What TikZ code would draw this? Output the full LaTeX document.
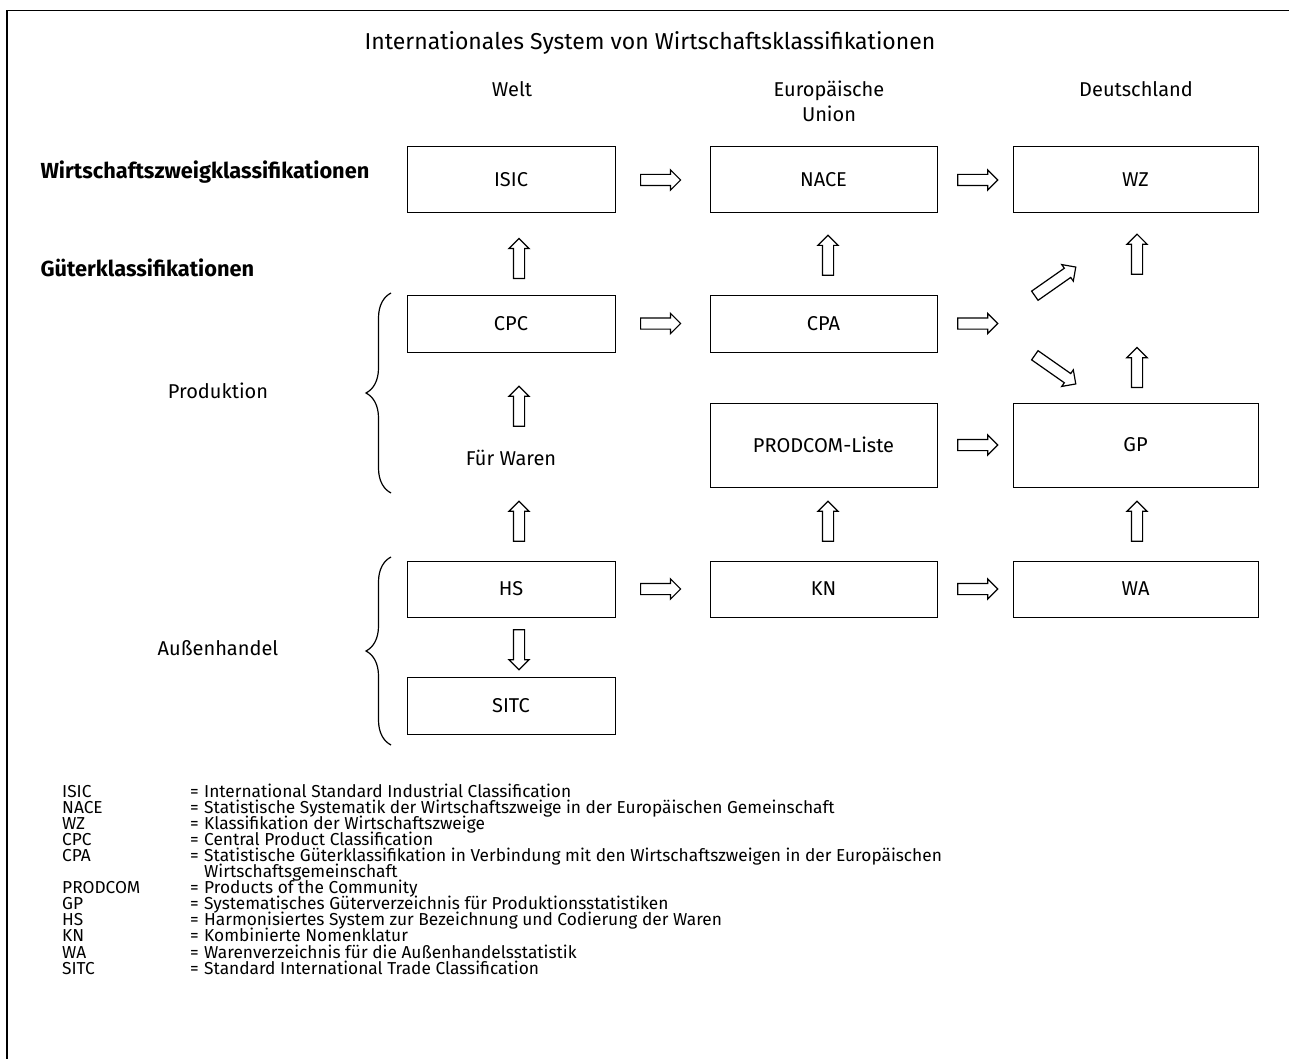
\documentclass[tikz,border=0pt]{standalone}
\usepackage{fontspec}
\setmainfont{Fira Sans}
\usetikzlibrary{shapes.arrows,decorations.pathreplacing}

\tikzset{
  box/.style={draw, line width=1pt, inner sep=0pt, font=\fontsize{20}{24}\selectfont},
  lbl/.style={font=\fontsize{20}{25}\selectfont},
  head/.style={font=\fontsize{21.8}{25}\selectfont\bfseries, anchor=west},
  legtxt/.style={anchor=base west, inner sep=0pt, font=\fontsize{17.3}{16}\selectfont},
  blk/.style={single arrow, draw, line width=1.2pt, fill=white, inner sep=0pt,
    text height=10pt, text depth=0pt, minimum height=40pt, single arrow head extend=4.5pt,
    single arrow tip angle=90, sloped, allow upside down},
  brc/.style={decorate, decoration={brace, amplitude=25pt}, line width=1.2pt}
}

\begin{document}
\begin{tikzpicture}[x=1pt, y=-1pt]
  \useasboundingbox (0,0) rectangle (1289,1059);
  % frame
  \draw[line width=1.6pt] (1300,10.5) -- (7,10.5) -- (7,1070);
  % headings
  \node[font=\fontsize{23}{27}\selectfont] (title) at (650,43) {Internationales System von Wirtschaftsklassifikationen};
  \node[lbl] (welt) at (512,89) {Welt};
  \node[lbl, align=center] (eu) at (829,101) {Europäische\\Union};
  \node[lbl] (de) at (1136,89) {Deutschland};
  \node[head] (wzk) at (37,172) {Wirtschaftszweigklassifikationen};
  \node[head] (gk) at (37,268) {Güterklassifikationen};
  \node[lbl] (prod) at (218,391) {Produktion};
  \node[lbl] (aussen) at (218,648) {Außenhandel};
  % boxes
  \node[box, minimum width=208pt, minimum height=66pt] (isic) at (511,180) {ISIC};
  \node[box, minimum width=227pt, minimum height=66pt] (nace) at (823.5,180) {NACE};
  \node[box, minimum width=245pt, minimum height=66pt] (wz) at (1135.5,180) {WZ};
  \node[box, minimum width=208pt, minimum height=57pt] (cpc) at (511,323.5) {CPC};
  \node[box, minimum width=227pt, minimum height=57pt] (cpa) at (823.5,323.5) {CPA};
  \node[box, minimum width=227pt, minimum height=84pt] (prodcom) at (823.5,445) {PRODCOM-Liste};
  \node[box, minimum width=245pt, minimum height=84pt] (gp) at (1135.5,445) {GP};
  \node[box, minimum width=208pt, minimum height=56pt] (hs) at (511,589) {HS};
  \node[box, minimum width=227pt, minimum height=56pt] (kn) at (823.5,589) {KN};
  \node[box, minimum width=245pt, minimum height=56pt] (wa) at (1135.5,589) {WA};
  \node[box, minimum width=208pt, minimum height=57pt] (sitc) at (511,705.5) {SITC};
  \node[lbl] (fw) at (511,458) {Für Waren};
  \coordinate (fork) at (gp.west |- cpa.east);
  \coordinate (upA) at (1013,311);
  \coordinate (upB) at (1093,255);
  \coordinate (dnA) at (1013,340);
  \coordinate (dnB) at (1093,396);
  % braces
  \draw[brc] (391,493) -- (391,293);
  \draw[brc] (391,745) -- (391,557);
  % arrows
  \path (isic) -- node[blk, pos=.45] {} (nace);
  \path (nace) -- node[blk] {} (wz);
  \path (cpc) -- node[blk, pos=.45] {} (cpa);
  \path (cpa) -- node[blk] {} (fork);
  \path ([xshift=8pt]cpc.north) -- node[blk, pos=.41] {} ([xshift=8pt]isic.south);
  \path ([xshift=4.5pt]cpa.north) -- node[blk, pos=.45] {} ([xshift=4.5pt]nace.south);
  \path ([xshift=1.5pt]gp.north) -- node[blk, pos=.17] {} node[blk, pos=.77] {} ([xshift=1.5pt]wz.south);
  \path (upA) -- node[blk, minimum height=50pt] {} (upB);
  \path (dnA) -- node[blk, minimum height=50pt] {} (dnB);
  \path (prodcom) -- node[blk] {} (gp);
  \path ([xshift=8pt]fw.north) -- node[blk, pos=.4] {} ([xshift=8pt]cpc.south);
  \path ([xshift=8pt]hs.north) -- node[blk, pos=.4] {} ([xshift=8pt]fw.south);
  \path ([xshift=4.5pt]kn.north) -- node[blk] {} ([xshift=4.5pt]prodcom.south);
  \path ([xshift=1.5pt]wa.north) -- node[blk] {} ([xshift=1.5pt]gp.south);
  \path (hs) -- node[blk, pos=.45] {} (kn);
  \path (kn) -- node[blk] {} (wa);
  \path ([xshift=8pt]hs.south) -- node[blk] {} ([xshift=8pt]sitc.north);
  % legend
  \foreach \abbr/\txt [count=\i] in {
      ISIC/International Standard Industrial Classification,
      NACE/Statistische Systematik der Wirtschaftszweige in der Europäischen Gemeinschaft,
      WZ/Klassifikation der Wirtschaftszweige,
      CPC/Central Product Classification,
      CPA/Statistische Güterklassifikation in Verbindung mit den Wirtschaftszweigen in der Europäischen,
      /Wirtschaftsgemeinschaft,
      PRODCOM/Products of the Community,
      GP/Systematisches Güterverzeichnis für Produktionsstatistiken,
      HS/Harmonisiertes System zur Bezeichnung und Codierung der Waren,
      KN/Kombinierte Nomenklatur,
      WA/Warenverzeichnis für die Außenhandelsstatistik,
      SITC/Standard International Trade Classification} {
    \node[legtxt] (abbr\i) at (62,{797+(\i-1)*16.1}) {\abbr};
    \node[legtxt] (txt\i) at (204,{797+(\i-1)*16.1}) {\txt};
    \ifx\abbr\empty\else
      \node[legtxt] (eq\i) at (190,{797+(\i-1)*16.1}) {=};
    \fi
  }
\end{tikzpicture}
\end{document}
